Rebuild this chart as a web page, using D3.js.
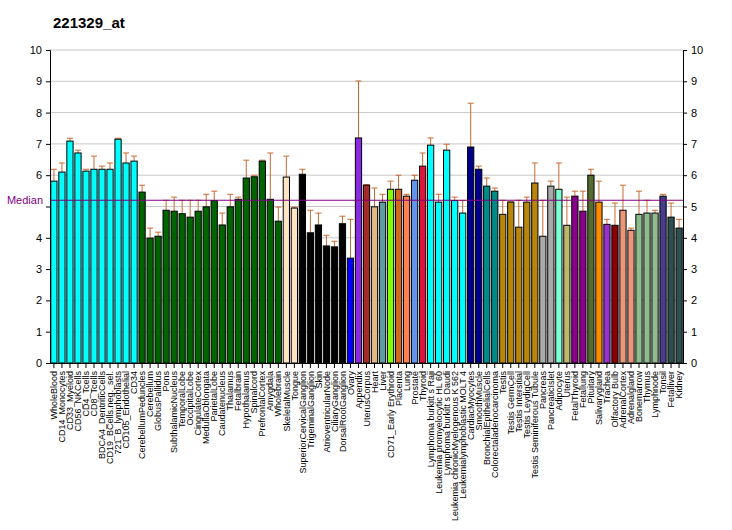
<!DOCTYPE html>
<html>
<head>
<meta charset="utf-8">
<script src="https://cdn.jsdelivr.net/npm/d3@7"></script>
<style>
  body { margin: 0; background: #fff; }
  text { font-family: "Liberation Sans", Arial, sans-serif; }
</style>
</head>
<body>
<div id="chart"></div>
<script>
// Data
const labels = ["WholeBlood","CD14_Monocytes","CD33_Myeloid","CD56_NKCells","CD4_Tcells","CD8_Tcells",
  "BDCA4_DentriticCells","CD19_BCells.neg._sel.","721_B_lymphoblasts","CD105_Endothelial","CD34",
  "CerebellumPeduncles","Cerebellum","GlobusPallidus","Pons","SubthalamicNucleus","TemporalLobe",
  "OccipitalLobe","CingulateCortex","MedullaOblongata","ParietalLobe","Caudatenucleus","Thalamus",
  "Fetalbrain","Hypothalamus","Spinalcord","PrefrontalCortex","Amygdala","Wholebrain","SkeletalMuscle",
  "Tongue","SuperiorCervicalGanglion","TrigeminalGanglion","Skin","AtrioventricularNode","CiliaryGanglion",
  "DorsalRootGanglion","Ovary","Appendix","UterusCorpus","Heart","Liver","CD71_Early Erythroid","Placenta",
  "Lung","Prostate","Thyroid","Lymphoma burkitt s Raji","Leukemia promyelocytic HL 60",
  "Lymphoma burkitt s Daudi","Leukemia chronicMyelogenous K 562","Leukemialymphoblastic MOLT 4",
  "CardiacMyocytes","SmoothMuscle","BronchialEpithelialCells","Colorectaladenocarcinoma","Testis",
  "Testis GermCell","Testis Intersitial","Testis LeydigCell","Testis Seminiferous Tubule","Pancreas",
  "PancreaticIslet","Adipocyte","Uterus","FetalThyroid","Fetallung","Pituitary","Salivarygland","Trachea",
  "Olfactory Bulb","AdrenalCortex","Adrenalgland","Bonemarrow","Thymus","Lymphnode","Tonsil","Fetalliver","Kidney"];

const values = [5.81,6.10,7.09,6.71,6.13,6.19,6.19,6.19,7.15,6.39,6.45,
  5.46,3.99,4.05,4.88,4.85,4.77,4.66,4.85,4.99,5.19,4.41,4.99,5.23,5.91,5.95,6.45,5.23,4.53,
  5.94,4.95,6.03,4.16,4.41,3.74,3.71,4.45,3.35,7.19,5.68,4.99,5.14,5.55,5.55,5.33,5.84,6.29,
  6.96,5.14,6.80,5.19,4.79,6.90,6.19,5.65,5.49,4.75,5.14,4.34,5.14,5.75,4.05,5.65,5.55,
  4.40,5.33,4.85,6.00,5.14,4.43,4.40,4.88,4.24,4.75,4.79,4.79,5.33,4.66,4.31];

const errTops = [6.19,6.39,7.18,6.80,6.19,6.61,6.29,6.39,7.18,6.71,6.61,
  5.68,4.31,4.18,5.20,5.30,5.20,5.20,5.20,5.39,5.49,4.79,5.39,5.30,6.48,6.00,6.48,6.71,4.98,
  6.61,4.98,6.19,4.88,4.79,4.08,3.89,4.69,4.59,9.01,5.70,5.59,5.39,5.81,6.00,5.39,6.00,6.71,
  7.19,5.39,6.99,5.30,5.19,8.30,6.29,5.91,5.59,5.20,5.15,5.20,5.30,6.39,5.20,5.81,6.39,
  5.30,5.49,5.49,6.19,5.81,4.59,5.11,5.68,4.31,5.49,5.20,4.88,5.39,5.11,4.59];

const colors = [
  ...Array(11).fill("#00FFFF"),
  ...Array(18).fill("#006400"),
  "#FFE4C4","#FFE4C4",
  "#000000","#000000","#000000","#000000","#000000","#000000",
  "#0000FF","#8A2BE2","#A52A2A","#DEB887","#5F9EA0","#7FFF00","#D2691E","#FF7F50","#6495ED","#DC143C",
  "#00FFFF","#00FFFF","#00FFFF","#00FFFF","#00FFFF",
  "#00008B","#00008B","#008B8B","#008B8B",
  "#B8860B","#B8860B","#B8860B","#B8860B","#B8860B",
  "#A9A9A9","#A9A9A9","#7FFFD4","#BDB76B","#8B008B","#8B008B","#556B2F","#FF8C00","#9932CC","#8B0000",
  "#E9967A","#E9967A","#8FBC8F","#8FBC8F","#8FBC8F","#483D8B","#2F4F4F","#2F4F4F"];

const median = 5.2;
const yTicks = [0,1,2,3,4,5,6,7,8,9,10];

const width = 732, height = 530;
const margin = {top: 50, right: 49, bottom: 167, left: 50};

const svg = d3.select("#chart").append("svg")
  .attr("width", width)
  .attr("height", height);

const x = d3.scaleBand()
  .domain(labels.map((d, i) => i))
  .range([margin.left, width - margin.right])
  .paddingInner(0.22)
  .paddingOuter(0.1);

const y = d3.scaleLinear()
  .domain([0, 10])
  .range([height - margin.bottom, margin.top]);

// Title
svg.append("text")
  .attr("x", 53).attr("y", 28)
  .attr("font-size", 15).attr("font-weight", "bold")
  .text("221329_at");

// Grid lines
svg.append("g")
  .selectAll("line")
  .data(yTicks.filter(d => d > 0))
  .join("line")
  .attr("x1", margin.left).attr("x2", width - margin.right)
  .attr("y1", d => y(d)).attr("y2", d => y(d))
  .attr("stroke", "#c8c8c8").attr("stroke-width", 1);

// Error bars
const errColor = "#c86a30";
const eb = svg.append("g").attr("stroke", errColor).attr("stroke-width", 1);
eb.selectAll("line.v")
  .data(values)
  .join("line")
  .attr("class", "v")
  .attr("x1", (d, i) => x(i) + x.bandwidth() / 2)
  .attr("x2", (d, i) => x(i) + x.bandwidth() / 2)
  .attr("y1", d => y(d))
  .attr("y2", (d, i) => y(errTops[i]));
eb.selectAll("line.h")
  .data(values)
  .join("line")
  .attr("class", "h")
  .attr("x1", (d, i) => x(i) + x.bandwidth() / 2 - 3)
  .attr("x2", (d, i) => x(i) + x.bandwidth() / 2 + 3)
  .attr("y1", (d, i) => y(errTops[i]))
  .attr("y2", (d, i) => y(errTops[i]));

// Bars
svg.append("g")
  .selectAll("rect")
  .data(values)
  .join("rect")
  .attr("x", (d, i) => x(i))
  .attr("width", x.bandwidth())
  .attr("y", d => y(d))
  .attr("height", d => y(0) - y(d))
  .attr("fill", (d, i) => colors[i])
  .attr("stroke", "#000")
  .attr("stroke-width", 1);

// Median line
svg.append("line")
  .attr("x1", margin.left).attr("x2", width - margin.right)
  .attr("y1", y(median)).attr("y2", y(median))
  .attr("stroke", "#800080").attr("stroke-width", 1.2);
svg.append("text")
  .attr("x", margin.left - 7).attr("y", y(median) + 4)
  .attr("text-anchor", "end")
  .attr("font-size", 11)
  .attr("fill", "#800080")
  .text("Median");

// Axes
const yAxisL = d3.axisLeft(y).tickValues(yTicks).tickSize(4).tickPadding(4);
const yAxisR = d3.axisRight(y).tickValues(yTicks).tickSize(4).tickPadding(4);

const gl = svg.append("g").attr("transform", `translate(${margin.left},0)`).call(yAxisL);
const gr = svg.append("g").attr("transform", `translate(${width - margin.right},0)`).call(yAxisR);
[gl, gr].forEach(g => {
  g.select(".domain").attr("stroke", "#000");
  g.selectAll(".tick line").attr("stroke", "#000");
  g.selectAll("text")
    .attr("font-size", 11)
    .attr("fill", "#000")
    .attr("font-family", "Liberation Sans, Arial, sans-serif");
});
gl.selectAll(".tick text").filter(d => d === 5).remove();

const xAxis = d3.axisBottom(x).tickSize(5).tickSizeOuter(0).tickFormat(i => labels[i]);
const gx = svg.append("g").attr("transform", `translate(0,${y(0)})`).call(xAxis);
gx.select(".domain").attr("stroke", "#000");
gx.selectAll(".tick line").attr("stroke", "#000");
gx.selectAll(".tick text")
  .attr("font-size", 9)
  .attr("fill", "#000")
  .attr("font-family", "Liberation Sans, Arial, sans-serif")
  .attr("text-anchor", "end")
  .attr("transform", "rotate(-90)")
  .attr("x", -8)
  .attr("y", 0)
  .attr("dy", "0.35em");
</script>
</body>
</html>
